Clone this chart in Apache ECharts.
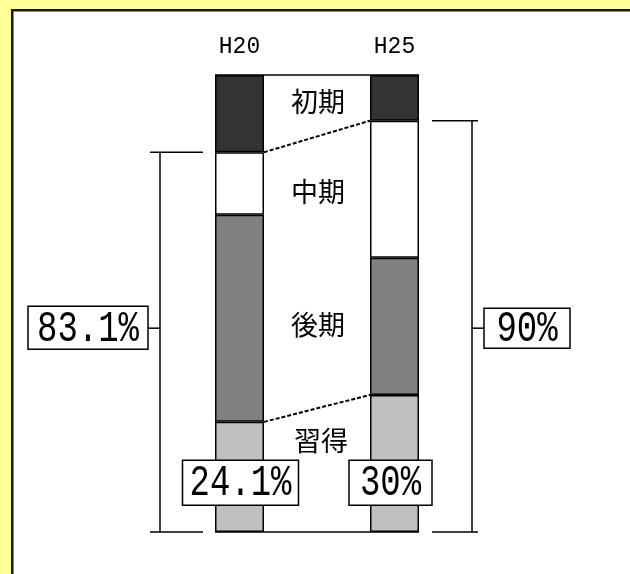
<!DOCTYPE html>
<html>
<head>
<meta charset="utf-8">
<script src="https://cdn.jsdelivr.net/npm/echarts@6/dist/echarts.min.js"></script>
<style>
html,body{margin:0;padding:0;background:#ffff99;}
#chart{width:630px;height:574px;}
</style>
</head>
<body>
<div id="chart"></div>
<script>
// ---- data ----
const categories = ['H20', 'H25'];
const stageNames = ['習得', '後期', '中期', '初期'];
const shutoku = [24.1, 30];   // 習得
const kouki   = [45.3, 30];   // 後期
const chuuki  = [13.7, 30];   // 中期
const shoki   = [16.9, 10];   // 初期
const bracketLabels = ['83.1%', '90%'];
const baseLabels = ['24.1%', '30%'];

// ---- layout / style ----
const BAR_W = 49;
const colors = ['#c0c0c0', '#808080', '#ffffff', '#333333'];
const numFont = '"Liberation Mono","DejaVu Sans Mono",monospace';
const jpFont = '"Noto Sans CJK JP",sans-serif';
const stageLabelVal = [19.9, 45.3, 74.4, 94.1]; // vertical placement of stage names in the gap

const chart = echarts.init(document.getElementById('chart'));
const seriesVals = [shutoku, kouki, chuuki, shoki];

const bars = stageNames.map((n, i) => ({
  name: n,
  type: 'bar',
  stack: 'all',
  barWidth: BAR_W,
  data: seriesVals[i],
  itemStyle: { color: colors[i], borderColor: '#000', borderWidth: 1.5 },
  silent: true,
  z: 2
}));

const overlay = {
  type: 'custom',
  z: 5,
  silent: true,
  data: [0],
  renderItem: function (params, api) {
    const cx0 = api.coord([0, 0])[0];
    const cx1 = api.coord([1, 0])[0];
    const Y = v => api.coord([0, v])[1];
    const l0 = cx0 - BAR_W / 2, r0 = cx0 + BAR_W / 2;
    const l1 = cx1 - BAR_W / 2, r1 = cx1 + BAR_W / 2;
    const solid = { stroke: '#000', lineWidth: 1.5 };
    const line = (x1, y1, x2, y2, st) => ({ type: 'line', shape: { x1, y1, x2, y2 }, style: st || solid });
    const ch = [];
    const total = [0, 1].map(i => shutoku[i] + kouki[i] + chuuki[i] + shoki[i]);
    const upper = [0, 1].map(i => shutoku[i] + kouki[i] + chuuki[i]);
    // frame top & bottom lines
    ch.push(line(l0, Y(total[0]), r1, Y(total[1])));
    ch.push(line(l0, Y(0), r1, Y(0)));
    // dashed connectors
    const dash = { stroke: '#000', lineWidth: 2, lineDash: [4, 2] };
    ch.push(line(r0, Y(upper[0]), l1, Y(upper[1]), dash));
    ch.push(line(r0, Y(shutoku[0]), l1, Y(shutoku[1]), dash));
    // brackets
    const labY = Y(44.6);
    const numStyle = (t, x, y) => ({ type: 'text', x: x, y: y, scaleY: 1.3,
      style: { text: t, x: 0, y: 0, align: 'center', verticalAlign: 'middle',
        font: '34px ' + numFont, fill: '#000' } });
    // left
    const vxL = l0 - 55;
    ch.push(line(vxL, Y(0), vxL, Y(upper[0])));
    ch.push(line(l0 - 65, Y(0), l0 - 12, Y(0)));
    ch.push(line(l0 - 65, Y(upper[0]), l0 - 12, Y(upper[0])));
    ch.push(line(vxL - 12, labY, vxL, labY));
    ch.push({ type: 'rect', shape: { x: vxL - 132, y: labY - 22, width: 120, height: 43 },
      style: { fill: '#fff', stroke: '#000', lineWidth: 1.5 } });
    ch.push(numStyle(bracketLabels[0], vxL - 72, labY + 1));
    // right
    const vxR = r1 + 53;
    ch.push(line(vxR, Y(0), vxR, Y(upper[1])));
    ch.push(line(r1 + 13, Y(0), r1 + 59, Y(0)));
    ch.push(line(r1 + 13, Y(upper[1]), r1 + 59, Y(upper[1])));
    ch.push(line(vxR, labY, vxR + 12, labY));
    ch.push({ type: 'rect', shape: { x: vxR + 12, y: labY - 20, width: 86, height: 40 },
      style: { fill: '#fff', stroke: '#000', lineWidth: 1.5 } });
    ch.push(numStyle(bracketLabels[1], vxR + 55, labY + 1));
    // base labels
    const by = Y(10.9);
    const boxW = [116, 83];
    const boxDx = [1, -4];
    [cx0, cx1].forEach((cx, i) => {
      const bx = cx + boxDx[i];
      ch.push({ type: 'rect', shape: { x: bx - boxW[i] / 2, y: by - 22, width: boxW[i], height: 45 },
        style: { fill: '#fff', stroke: '#000', lineWidth: 1.5 } });
      ch.push(numStyle(baseLabels[i], bx, by + 1));
    });
    // stage names in the gap
    const gx = (r0 + l1) / 2;
    stageNames.forEach((n, i) => {
      ch.push({ type: 'text', style: { text: n, x: gx + (i === 0 ? 4 : 1), y: Y(stageLabelVal[i]),
        align: 'center', verticalAlign: 'middle', font: '27px ' + jpFont, fill: '#000' } });
    });
    return { type: 'group', children: ch };
  }
};

chart.setOption({
  backgroundColor: '#ffff99',
  animation: false,
  graphic: [{
    type: 'rect', left: 11, top: 9, z: -10,
    shape: { width: 640, height: 600 },
    style: { fill: '#ffffff', stroke: '#1a1a1a', lineWidth: 2.5 }
  }],
  grid: { left: 162, width: 310, top: 75, bottom: 42 },
  xAxis: {
    type: 'category', data: categories, position: 'top',
    axisLine: { show: false }, axisTick: { show: false }, splitLine: { show: false },
    axisLabel: { margin: 17, fontSize: 23, fontFamily: numFont, color: '#000' }
  },
  yAxis: { type: 'value', min: 0, max: 100, show: false },
  series: bars.concat([overlay])
});
</script>
</body>
</html>
